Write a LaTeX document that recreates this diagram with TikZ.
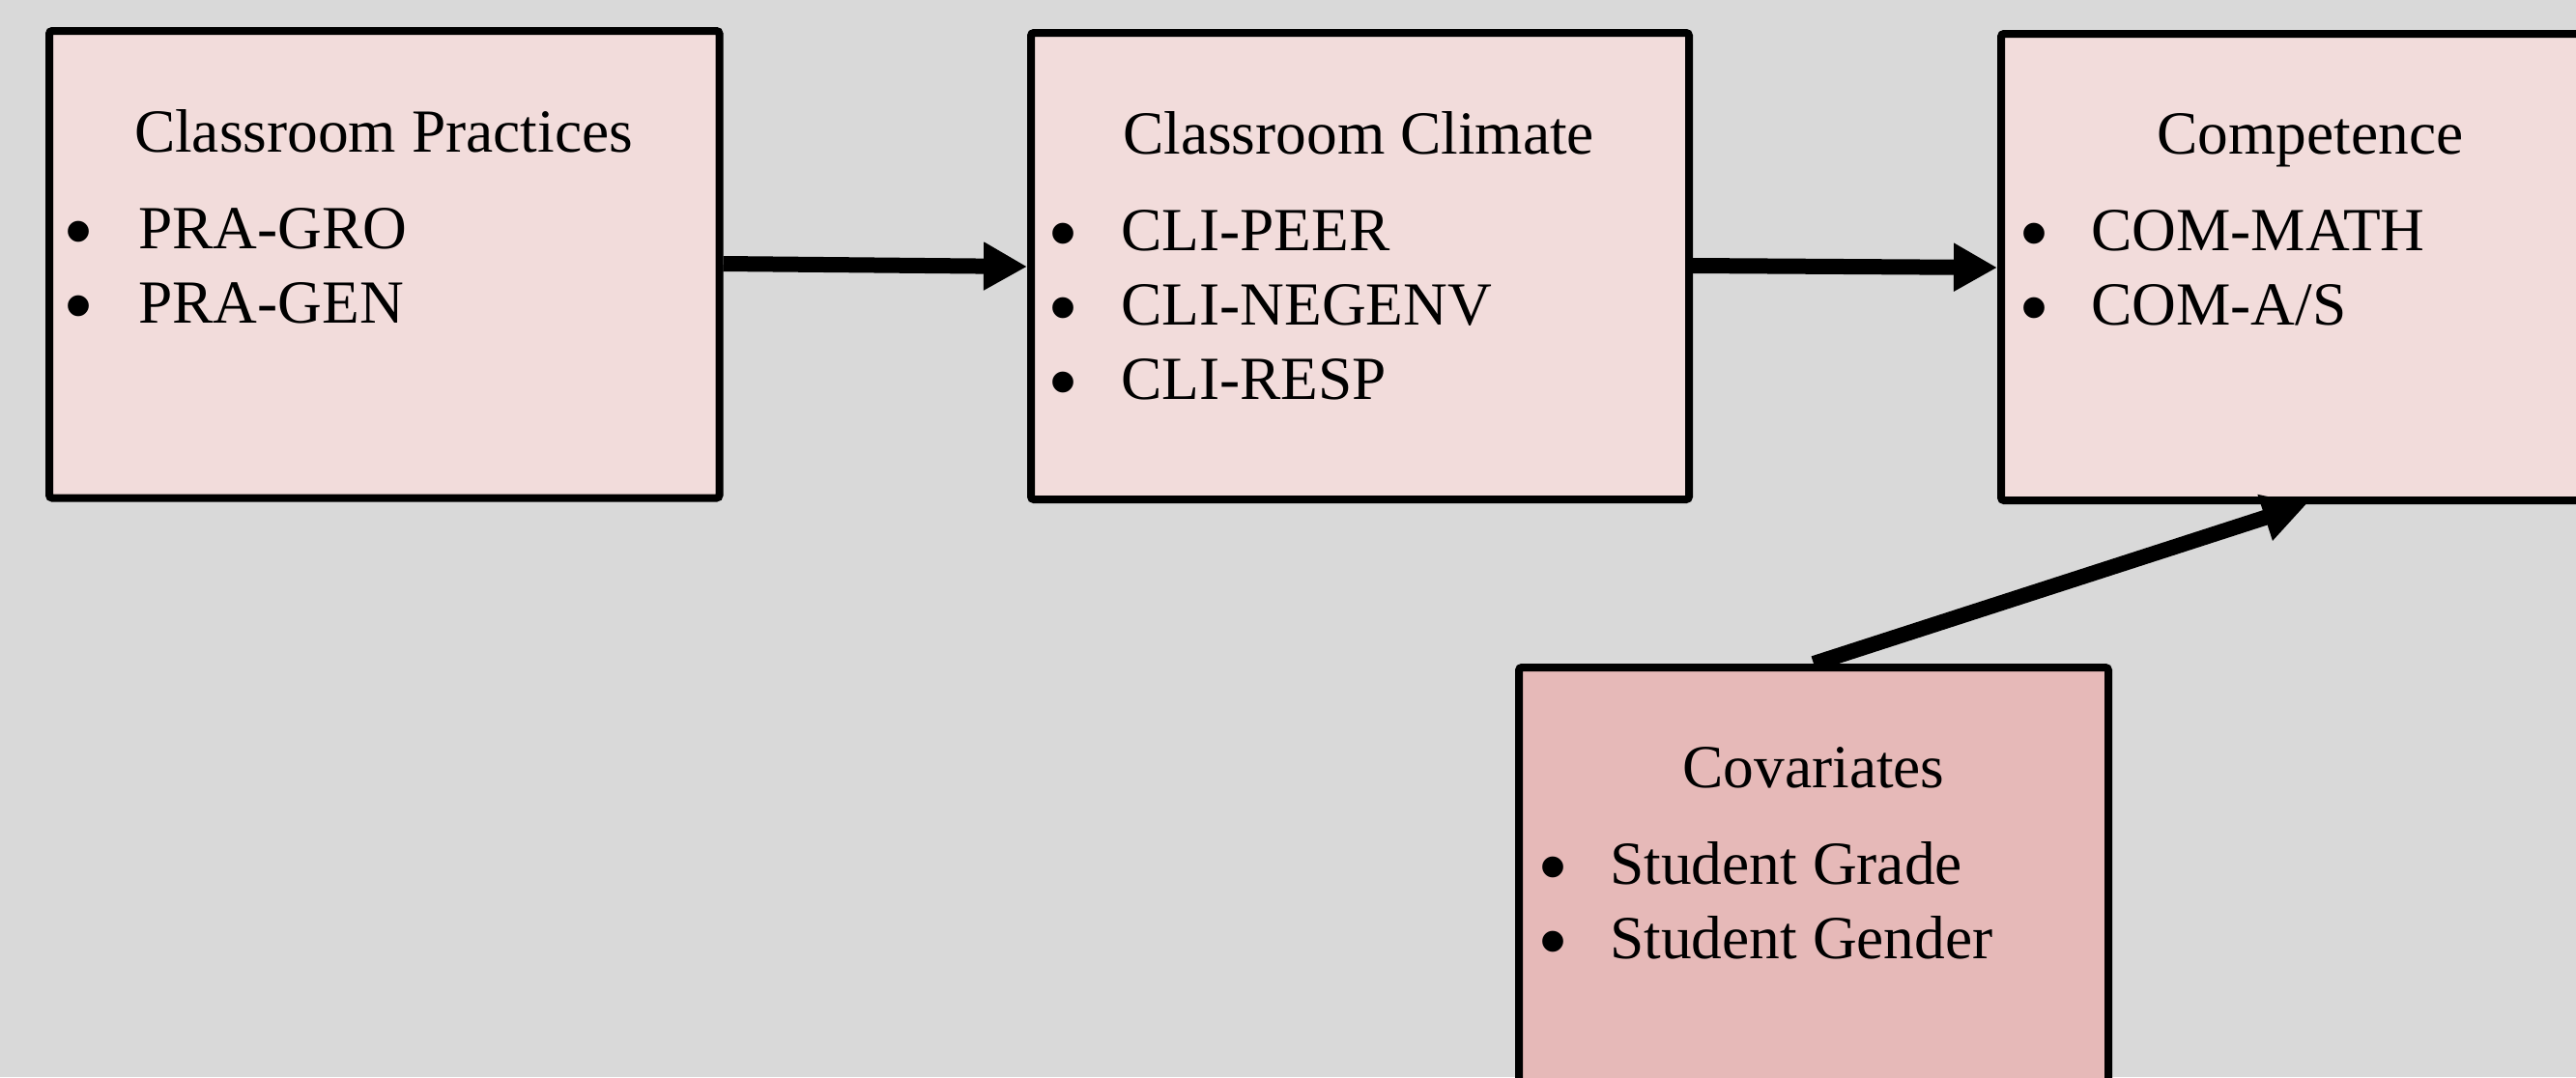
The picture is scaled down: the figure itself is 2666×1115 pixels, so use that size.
\documentclass[tikz,border=0pt]{standalone}
\usepackage{fontspec}
\setmainfont{Liberation Serif}
\newfontfamily\bulletfont{Liberation Sans}
\usetikzlibrary{arrows.meta}
\definecolor{bg}{HTML}{D9D9D9}
\definecolor{boxfill}{HTML}{F2DCDB}
\definecolor{covfill}{HTML}{E6B9B8}
\begin{document}
\begin{tikzpicture}[x=0.5pt,y=-0.5pt,
  box/.style={draw=black, line width=4pt, fill=boxfill, rounded corners=1.5pt, inner sep=0pt, anchor=north west},
  ttl/.style={anchor=base, inner sep=0pt, font=\fontsize{31.7}{38}\selectfont},
  itm/.style={anchor=base west, inner sep=0pt, font=\fontsize{31.7}{38}\selectfont},
  blt/.style={anchor=base, inner sep=0pt, font=\bulletfont\fontsize{40}{38}\selectfont},
  conn/.style={line width=8pt, -{Triangle[length=22.5pt,width=23.5pt]}}
]
\useasboundingbox (0,0) rectangle (2666,1115);
\fill[bg] (0,0) rectangle (2666,1115);
\clip (0,0) rectangle (2666,1115);

% boxes (anchored at outer corner)
\node[box, minimum width=346.75pt, minimum height=241.75pt] (b1) at (47,28) {};
\node[box, minimum width=340.5pt, minimum height=241.5pt] (b2) at (1063,30) {};
\node[box, minimum width=330pt, minimum height=241.5pt] (b3) at (2067,31) {};
\node[box, fill=covfill, minimum width=305pt, minimum height=250pt] (b4) at (1568,687) {};

% box 1
\node[ttl] (t1) at (397,157) {Classroom Practices};
\node[blt] (p1a) at (82,266) {•};
\node[itm] (i1a) at (143,257) {PRA-GRO};
\node[blt] (p1b) at (82,343) {•};
\node[itm] (i1b) at (143,334) {PRA-GEN};

% box 2
\node[ttl] (t2) at (1406,159) {Classroom Climate};
\node[blt] (p2a) at (1100,268) {•};
\node[itm] (i2a) at (1160,259) {CLI-PEER};
\node[blt] (p2b) at (1100,345) {•};
\node[itm] (i2b) at (1160,336) {CLI-NEGENV};
\node[blt] (p2c) at (1100,422) {•};
\node[itm] (i2c) at (1160,413) {CLI-RESP};

% box 3
\node[ttl] (t3) at (2391,159) {Competence};
\node[blt] (p3a) at (2105,268) {•};
\node[itm] (i3a) at (2164,259) {COM-MATH};
\node[blt] (p3b) at (2105,345) {•};
\node[itm] (i3b) at (2164,336) {COM-A/S};

% box 4
\node[ttl] (t4) at (1877,815) {Covariates};
\node[blt] (p4a) at (1607,924) {•};
\node[itm] (i4a) at (1666,915) {Student Grade};
\node[blt] (p4b) at (1607,1001) {•};
\node[itm] (i4b) at (1666,992) {Student Gender};

% connectors
\draw[conn] (b1.east |- 0,273) -- (b2.west |- 0,276);
\draw[conn] (b2.east |- 0,275) -- (b3.west |- 0,277);
\draw[conn] (b4.north) -- (2387,0 |- b3.south);
\end{tikzpicture}
\end{document}
